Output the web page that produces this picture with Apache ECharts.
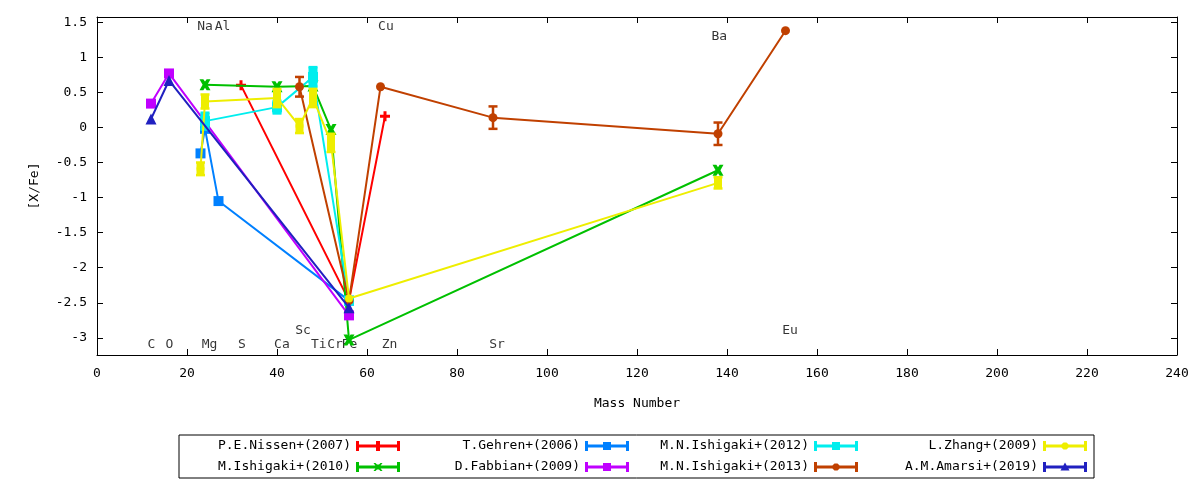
<!DOCTYPE html>
<html><head><meta charset="utf-8">
<script src="https://cdn.jsdelivr.net/npm/echarts@6/dist/echarts.min.js"></script>
<style>html,body{margin:0;padding:0;background:#fff}#c{width:1200px;height:480px}</style>
</head><body><div id="c"></div>
<script>
// ---------- data ----------
const xTicks = [0,20,40,60,80,100,120,140,160,180,200,220,240];
const yTicks = [-3,-2.5,-2,-1.5,-1,-0.5,0,0.5,1,1.5];

const nissenX = [32, 56, 64];
const nissenY = [0.60, -2.47, 0.16];
const nissenE = [0, 0, 0];

const ishigaki10X = [24, 40, 48, 52, 56, 138];
const ishigaki10Y = [0.61, 0.58, 0.59, -0.03, -3.03, -0.61];
const ishigaki10E = [0, 0, 0, 0, 0, 0];

const gehrenX = [23, 24, 27, 56];
const gehrenY = [-0.37, -0.02, -1.05, -2.47];
const gehrenE = [0, 0, 0, 0];

const fabbianX = [12, 16, 56];
const fabbianY = [0.34, 0.77, -2.68];
const fabbianE = [0, 0, 0];

const ishigaki12X = [24, 40, 48, 56];
const ishigaki12Y = [0.09, 0.29, 0.72, -2.47];
const ishigaki12E = [0.12, 0.09, 0.14, 0];

const ishigaki13X = [45, 56, 63, 88, 138, 153];
const ishigaki13Y = [0.58, -2.47, 0.58, 0.14, -0.09, 1.38];
const ishigaki13E = [0.14, 0, 0, 0.16, 0.16, 0];

const zhangX = [23, 24, 40, 45, 48, 52, 56, 138];
const zhangY = [-0.59, 0.37, 0.42, 0.02, 0.42, -0.22, -2.44, -0.79];
const zhangE = [0.09, 0.10, 0.13, 0.10, 0.13, 0.13, 0, 0.08];

const amarsiX = [12, 16, 56];
const amarsiY = [0.12, 0.67, -2.57];
const amarsiE = [0, 0, 0];

const elemNames  = ['C','O','Na','Mg','Al','S','Ca','Sc','Ti','Cr','Fe','Cu','Zn','Sr','Ba','Eu'];
const elemLabelX = [12.1,16.1,24,25,27.9,32.2,41.1,45.8,49.3,52.9,56.1,64.2,65,88.9,138.3,154];
const elemLabelY = [-3.1,-3.1,1.44,-3.1,1.44,-3.1,-3.1,-2.9,-3.1,-3.1,-3.1,1.44,-3.1,-3.1,1.29,-2.9];

const seriesNames = ['P.E.Nissen+(2007)','M.Ishigaki+(2010)','T.Gehren+(2006)','D.Fabbian+(2009)',
  'M.N.Ishigaki+(2012)','M.N.Ishigaki+(2013)','L.Zhang+(2009)','A.M.Amarsi+(2019)'];
const seriesColors = ['#ff0000','#00c000','#0080ff','#c000ff','#00eeee','#c04000','#eeee00','#2020c0'];
const legendOrder = [0,2,4,6,1,3,5,7];

// ---------- build ----------
const FONT = 'DejaVu Sans Mono';
const PLUS = 'path://M3.5,0H6.5V3.5H10V6.5H6.5V10H3.5V6.5H0V3.5H3.5Z';
const XMARK = 'path://M0,0L3.5,0L5,2.2L6.5,0L10,0L7.2,5L10,10L6.5,10L5,7.8L3.5,10L0,10L2.8,5Z';
const markers = [
  {sym: PLUS, size: 10, kind: 'plus', bar: 2.5},
  {sym: XMARK, size: 11, kind: 'x', bar: 2.5},
  {sym: 'rect', size: 10, kind: 'sq', bar: 2.5},
  {sym: 'rect', size: 10, kind: 'sq', bar: 2.5},
  {sym: 'rect', size: 10, kind: 'sq', bar: 9},
  {sym: 'circle', size: 9, kind: 'circ', bar: 2.5},
  {sym: 'circle', size: 8, kind: 'circ', bar: 8},
  {sym: 'triangle', size: 11, kind: 'tri', bar: 2.5}
];
const sets = [
  [nissenX, nissenY, nissenE],
  [ishigaki10X, ishigaki10Y, ishigaki10E],
  [gehrenX, gehrenY, gehrenE],
  [fabbianX, fabbianY, fabbianE],
  [ishigaki12X, ishigaki12Y, ishigaki12E],
  [ishigaki13X, ishigaki13Y, ishigaki13E],
  [zhangX, zhangY, zhangE],
  [amarsiX, amarsiY, amarsiE]
];

function legendIcon(kind) {
  let p = 'M0,0H3V10H0Z M41,0H44V10H41Z M0,3.5H44V6.5H0Z ';
  if (kind === 'plus') p += 'M20,0H24V10H20Z';
  else if (kind === 'x') p += 'M17.5,1L19.5,1L22,3.5L24.5,1L26.5,1L23.5,5L26.5,9L24.5,9L22,6.5L19.5,9L17.5,9L20.5,5Z M19.5,2.5H24.5V7.5H19.5Z';
  else if (kind === 'sq') p += 'M18,1H26V9H18Z';
  else if (kind === 'circ') p += 'M20.5,1.4L23.5,1.4L25.6,3.5L25.6,6.5L23.5,8.6L20.5,8.6L18.4,6.5L18.4,3.5Z';
  else if (kind === 'tri') p += 'M22,0.5L26.5,8.5L17.5,8.5Z';
  return 'path://' + p;
}

const series = [];
series.push({
  type: 'scatter', silent: true, z: 1,
  data: elemNames.map((n, i) => [elemLabelX[i], elemLabelY[i], n]),
  symbolSize: 1, itemStyle: {color: 'rgba(0,0,0,0)'},
  label: {show: true, position: 'inside', formatter: p => p.value[2], color: '#000', fontFamily: FONT, fontSize: 13}
});
sets.forEach((s, k) => {
  const [xs, ys, es] = s;
  const col = seriesColors[k];
  const barW = markers[k].bar;
  series.push({
    type: 'line', name: seriesNames[k], z: 2 + k * 2,
    data: xs.map((x, i) => [x, ys[i]]),
    symbol: markers[k].sym, symbolSize: markers[k].size, showSymbol: true,
    lineStyle: {color: col, width: 2}, itemStyle: {color: col},
    emphasis: {disabled: true}, animation: false
  });
  series.push({
    type: 'custom', name: seriesNames[k], z: 3 + k * 2, silent: true,
    data: xs.map((x, i) => [x, ys[i], es[i]]),
    encode: {x: 0, y: 1},
    renderItem: function (params, api) {
      const x = api.value(0), y = api.value(1), e = api.value(2);
      if (!e) return null;
      const t = api.coord([x, y + e]), b = api.coord([x, y - e]);
      const hw = 4.5, st = {stroke: col, lineWidth: 2.5};
      return {type: 'group', children: [
        {type: 'line', shape: {x1: t[0], y1: t[1], x2: b[0], y2: b[1]}, style: {stroke: col, lineWidth: barW}},
        {type: 'line', shape: {x1: t[0] - hw, y1: t[1], x2: t[0] + hw, y2: t[1]}, style: st},
        {type: 'line', shape: {x1: b[0] - hw, y1: b[1], x2: b[0] + hw, y2: b[1]}, style: st}
      ]};
    },
    animation: false
  });
});

function axisBase(extra) {
  return Object.assign({
    axisLine: {show: true, onZero: false, lineStyle: {color: '#000', width: 1}},
    axisTick: {show: true, inside: true, length: 6, lineStyle: {color: '#000'}},
    splitLine: {show: false}
  }, extra);
}
const yTickOpt = {show: true, inside: true, length: 6, lineStyle: {color: '#000'}, customValues: yTicks};

const option = {
  backgroundColor: '#fff',
  animation: false,
  grid: {left: 97, right: 23, top: 17, bottom: 125},
  xAxis: [
    axisBase({type: 'value', min: 0, max: 240, interval: 20, position: 'bottom',
      name: 'Mass Number', nameLocation: 'middle', nameGap: 42,
      nameTextStyle: {fontFamily: FONT, fontSize: 13, color: '#000'},
      axisLabel: {fontFamily: FONT, fontSize: 13, color: '#000', margin: 12}}),
    axisBase({type: 'value', min: 0, max: 240, interval: 20, position: 'top',
      axisLabel: {show: false}})
  ],
  yAxis: [
    axisBase({type: 'value', min: -3.245, max: 1.575, position: 'left',
      name: '[X/Fe]', nameLocation: 'middle', nameGap: 56, nameRotate: 90,
      nameTextStyle: {fontFamily: FONT, fontSize: 13, color: '#000'},
      axisLabel: {fontFamily: FONT, fontSize: 13, color: '#000', margin: 10, customValues: yTicks},
      axisTick: yTickOpt}),
    axisBase({type: 'value', min: -3.245, max: 1.575, position: 'right',
      axisLabel: {show: false}, axisTick: yTickOpt})
  ],
  legend: {
    left: 179, top: 435, orient: 'horizontal', align: 'right',
    width: 915, itemWidth: 44, itemHeight: 10, itemGap: 8,
    padding: [4.5, 7, 4.5, 0], borderColor: '#000', borderWidth: 1,
    selectedMode: false,
    textStyle: {fontFamily: FONT, fontSize: 13, color: '#000', width: 172, lineHeight: 11},
    data: legendOrder.map(k => ({
      name: seriesNames[k], icon: legendIcon(markers[k].kind),
      itemStyle: {color: seriesColors[k], borderWidth: 0}
    }))
  },
  series: series
};
const chart = echarts.init(document.getElementById('c'), null, {renderer: 'canvas'});
chart.setOption(option);
</script></body></html>
